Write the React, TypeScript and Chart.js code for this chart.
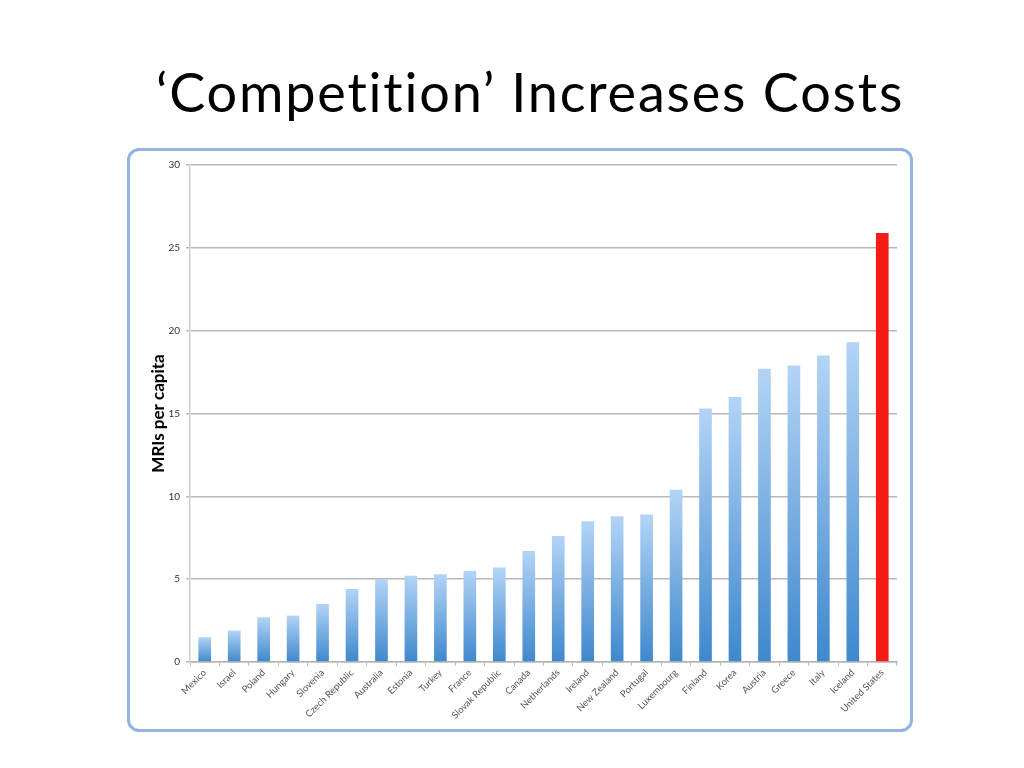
import React, { useEffect, useRef } from 'react';
import { Chart, registerables } from 'chart.js';

Chart.register(...registerables);

const countries = [
  'Mexico', 'Israel', 'Poland', 'Hungary', 'Slovenia', 'Czech Republic', 'Australia', 'Estonia',
  'Turkey', 'France', 'Slovak Republic', 'Canada', 'Netherlands', 'Ireland', 'New Zealand',
  'Portugal', 'Luxembourg', 'Finland', 'Korea', 'Austria', 'Greece', 'Italy', 'Iceland', 'United States',
];
const mrisPerCapita = [
  1.5, 1.9, 2.7, 2.8, 3.5, 4.4, 5.0, 5.2, 5.3, 5.5, 5.7, 6.7, 7.6, 8.5, 8.8,
  8.9, 10.4, 15.3, 16.0, 17.7, 17.9, 18.5, 19.3, 25.9,
];
const highlight = 'United States';

const MriChart: React.FC = () => {
  const canvasRef = useRef<HTMLCanvasElement>(null);

  useEffect(() => {
    if (!canvasRef.current) return;
    const chart = new Chart(canvasRef.current, {
      type: 'bar',
      data: {
        labels: countries,
        datasets: [{
          data: mrisPerCapita,
          barPercentage: 0.86,
          categoryPercentage: 0.5,
          backgroundColor: (c: any) => {
            const name = countries[c.dataIndex];
            if (name === highlight) return '#f51c16';
            const { chart: ch } = c;
            const y = ch.scales?.y;
            if (!y || !ch.chartArea) return '#6aa6e2';
            // light at the top of each bar, darker at its base
            const top = y.getPixelForValue(c.raw);
            const base = y.getPixelForValue(0);
            const g = ch.ctx.createLinearGradient(0, top, 0, base);
            g.addColorStop(0, '#b3d4f6');
            g.addColorStop(1, '#3e88cd');
            return g;
          },
        }],
      },
      options: {
        responsive: false,
        animation: false,
        layout: { padding: { top: 17, right: 16, left: 0, bottom: 0 } },
        plugins: { legend: { display: false }, tooltip: { enabled: false } },
        scales: {
          x: {
            afterFit: (s: any) => { s.height = 70; },
            grid: { drawOnChartArea: false, drawTicks: true, tickLength: 4, color: '#c4c4c4' },
            border: { color: '#b4b4b4', width: 1.5 },
            ticks: {
              autoSkip: false, maxRotation: 45, minRotation: 45, padding: 1,
              color: '#555555', font: { family: 'Lato', size: 9.5 },
            },
          },
          y: {
            min: 0, max: 30,
            afterFit: (s: any) => { s.width = 63; },
            grid: { color: '#b8b8b8', lineWidth: 1.5, tickLength: 4 },
            border: { color: '#cfcfcf', width: 1.5 },
            ticks: { stepSize: 5, padding: 6, color: '#333333', font: { family: 'Lato', size: 10 } },
            title: {
              display: true, text: 'MRIs per capita', color: '#000000',
              font: { family: 'Lato', size: 17, weight: 'bold' },
              padding: { top: 21, bottom: 0 },
            },
          },
        },
      },
    });
    return () => chart.destroy();
  }, []);

  return <canvas ref={canvasRef} width={786} height={584} style={{ position: 'absolute', left: 0, top: 0 }} />;
};

export default function App() {
  return (
    <div style={{ position: 'fixed', left: 0, top: 0, width: 1024, height: 768, background: '#ffffff', overflow: 'hidden' }}>
      <div style={{
        position: 'absolute', left: 0, top: 60, width: 1060, textAlign: 'center', whiteSpace: 'nowrap',
        fontFamily: 'Lato, "Open Sans", sans-serif', fontSize: 54, letterSpacing: 1.8, color: '#000000', lineHeight: '64px',
      }}>
        ‘Competition’ Increases Costs
      </div>
      <div style={{ position: 'absolute', left: 127, top: 148, width: 786, height: 584 }}>
        <MriChart />
        <div style={{
          position: 'absolute', left: 0, top: 0, width: 786, height: 584, boxSizing: 'border-box',
          border: '3px solid #94b4e2', borderRadius: 12, pointerEvents: 'none',
        }} />
      </div>
    </div>
  );
}
